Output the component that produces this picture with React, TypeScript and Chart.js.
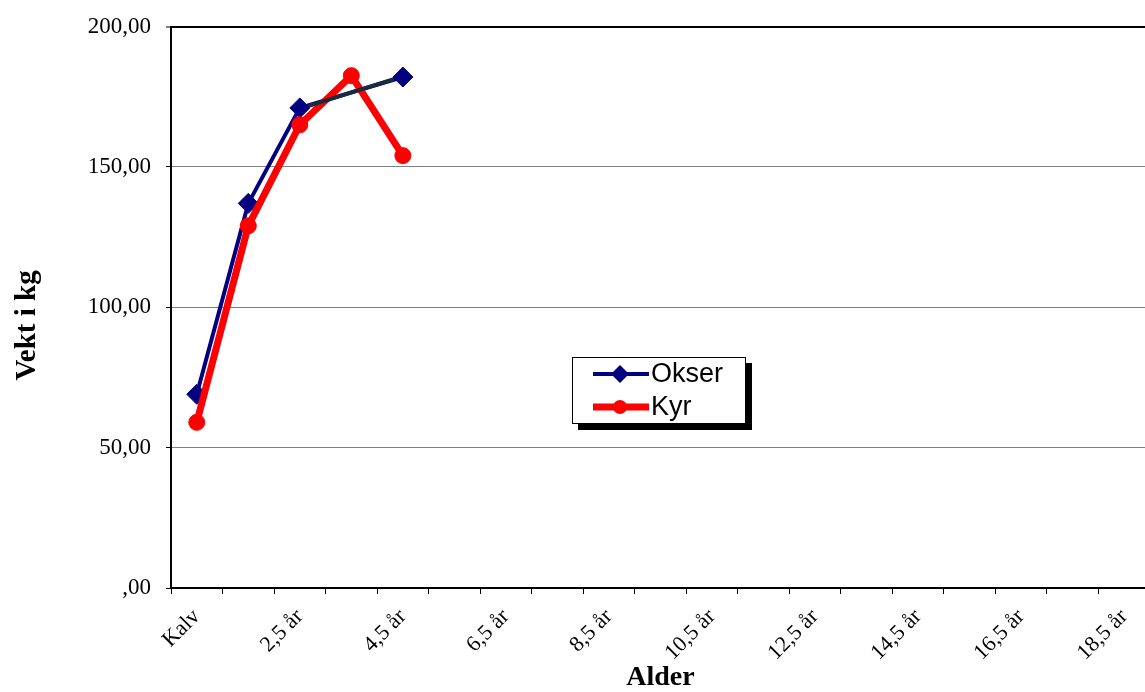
import { useEffect, useRef } from 'react';
import { Chart, registerables } from 'chart.js';

Chart.register(...registerables);

const categories = [
  'Kalv', '1,5 år', '2,5 år', '3,5 år', '4,5 år', '5,5 år', '6,5 år', '7,5 år', '8,5 år', '9,5 år',
  '10,5 år', '11,5 år', '12,5 år', '13,5 år', '14,5 år', '15,5 år', '16,5 år', '17,5 år', '18,5 år',
];
const okser: (number | null)[] = [69, 137, 171, null, 182];
const kyr: (number | null)[] = [59, 129, 165, 182.5, 154];
const seriesNames = ['Okser', 'Kyr'];
const yMin = 0;
const yMax = 200;
const yStep = 50;

const NAVY = '#000080';
const RED = '#ff0000';
const GAP = '#1a2b40';
const SERIF = '"Liberation Serif", "Times New Roman", serif';

const fmtY = (v: number) => (v === 0 ? ',00' : v.toFixed(2).replace('.', ','));

// redraw the gap-spanning segments of dataset 0 on top (as Excel does)
const gapPlugin = {
  id: 'gapOnTop',
  afterDatasetsDraw(chart: any) {
    const ds = chart.data.datasets[0];
    const meta = chart.getDatasetMeta(0);
    const ctx = chart.ctx;
    let prev = -1;
    ds.data.forEach((v: any, i: number) => {
      if (v === null || v === undefined) return;
      if (prev >= 0 && i - prev > 1) {
        const a = meta.data[prev];
        const b = meta.data[i];
        ctx.save();
        ctx.strokeStyle = GAP;
        ctx.lineWidth = 4;
        ctx.beginPath();
        ctx.moveTo(a.x + 9, a.y - 2);
        ctx.lineTo(b.x - 9, b.y + 2);
        ctx.stroke();
        ctx.restore();
      }
      prev = i;
    });
  },
};

function drawMarker(ctx: CanvasRenderingContext2D, style: string, x: number, y: number, r: number, color: string) {
  ctx.fillStyle = color;
  ctx.beginPath();
  if (style === 'rectRot') {
    ctx.moveTo(x - r, y);
    ctx.lineTo(x, y - r);
    ctx.lineTo(x + r, y);
    ctx.lineTo(x, y + r);
    ctx.closePath();
  } else {
    ctx.arc(x, y, r, 0, Math.PI * 2);
  }
  ctx.fill();
}

const boxLegend = {
  id: 'boxLegend',
  afterDraw(chart: any) {
    const ctx: CanvasRenderingContext2D = chart.ctx;
    const x = 572, y = 357, w = 174, h = 67;
    ctx.save();
    ctx.fillStyle = '#000';
    ctx.fillRect(x + 6, y + 6, w, h);
    ctx.fillStyle = '#fff';
    ctx.fillRect(x, y, w, h);
    ctx.strokeStyle = '#000';
    ctx.lineWidth = 1;
    ctx.strokeRect(x + 0.5, y + 0.5, w - 1, h - 1);
    chart.data.datasets.forEach((ds: any, i: number) => {
      const cy = y + 17 + i * 33;
      ctx.strokeStyle = ds.borderColor;
      ctx.lineWidth = ds.borderWidth;
      ctx.lineCap = 'butt';
      ctx.beginPath();
      ctx.moveTo(x + 21, cy);
      ctx.lineTo(x + 77, cy);
      ctx.stroke();
      drawMarker(ctx, ds.pointStyle, x + 48, cy, ds.pointRadius - 1, ds.pointBackgroundColor);
      ctx.fillStyle = '#000';
      ctx.font = '27px "Liberation Sans", Arial, sans-serif';
      ctx.textBaseline = 'middle';
      ctx.textAlign = 'left';
      ctx.fillText(ds.label, x + 79, cy + 1);
    });
    ctx.restore();
  },
};

export default function App() {
  const ref = useRef<HTMLCanvasElement>(null);
  useEffect(() => {
    document.body.style.margin = '0';
    const chart = new Chart(ref.current as HTMLCanvasElement, {
      type: 'line',
      data: {
        labels: categories,
        datasets: [
          {
            label: seriesNames[0],
            data: okser,
            borderColor: NAVY,
            backgroundColor: NAVY,
            borderWidth: 4,
            pointStyle: 'rectRot',
            pointRadius: 10,
            pointBackgroundColor: NAVY,
            pointBorderColor: NAVY,
            pointBorderWidth: 1,
            spanGaps: true,
            tension: 0,
            order: 1,
            segment: {
              borderColor: (c: any) => (c.p1DataIndex - c.p0DataIndex > 1 ? GAP : undefined),
            },
          } as any,
          {
            label: seriesNames[1],
            data: kyr,
            borderColor: RED,
            backgroundColor: RED,
            borderWidth: 7,
            pointStyle: 'circle',
            pointRadius: 8,
            pointBackgroundColor: RED,
            pointBorderColor: RED,
            pointBorderWidth: 1,
            tension: 0,
            order: 0,
          } as any,
        ],
      },
      options: {
        responsive: false,
        animation: false,
        events: [],
        layout: { padding: { top: 25, left: 0, right: 0, bottom: 0 } },
        plugins: {
          legend: { display: false },
          tooltip: { enabled: false },
        },
        scales: {
          x: {
            offset: true,
            afterFit: (s: any) => { s.height = 104; },
            grid: {
              offset: true,
              drawOnChartArea: false,
              drawTicks: true,
              tickLength: 6,
              tickColor: '#000',
              tickWidth: 1,
            },
            border: { display: true, color: '#000', width: 2 },
            ticks: {
              autoSkip: false,
              minRotation: 45,
              maxRotation: 45,
              padding: 10,
              color: '#000',
              font: { family: SERIF, size: 22 },
              callback: (_v: any, i: number) => (i % 2 === 0 ? categories[i] : ''),
            },
            title: {
              display: true,
              text: 'Alder',
              color: '#000',
              font: { family: SERIF, size: 28, weight: 'bold', lineHeight: 1 },
              padding: { top: 0, bottom: 0 },
            },
          },
          y: {
            min: yMin,
            max: yMax,
            afterFit: (s: any) => { s.width = 171; },
            grid: {
              color: (c: any) => (c.tick && c.tick.value === yMax ? '#000' : '#808080'),
              lineWidth: (c: any) => (c.tick && c.tick.value === yMax ? 2 : 1),
              tickLength: 5,
              tickColor: '#000',
              tickWidth: 1,
            },
            border: { display: true, color: '#000', width: 2 },
            ticks: {
              stepSize: yStep,
              padding: 15,
              color: '#000',
              font: { family: SERIF, size: 23, lineHeight: 1 },
              callback: (v: any) => fmtY(Number(v)),
            },
            title: {
              display: true,
              text: 'Vekt i kg     ',
              color: '#000',
              font: { family: SERIF, size: 29, weight: 'bold', lineHeight: 1 },
              padding: { top: 13, bottom: 0 },
            },
          },
        },
      },
      plugins: [gapPlugin, boxLegend],
    });
    return () => chart.destroy();
  }, []);
  return (
    <div style={{ position: 'fixed', left: 0, top: 0, width: 1145, height: 692, overflow: 'hidden', background: '#fff' }}>
      <canvas ref={ref} width={1161} height={692} style={{ display: 'block' }} />
    </div>
  );
}
